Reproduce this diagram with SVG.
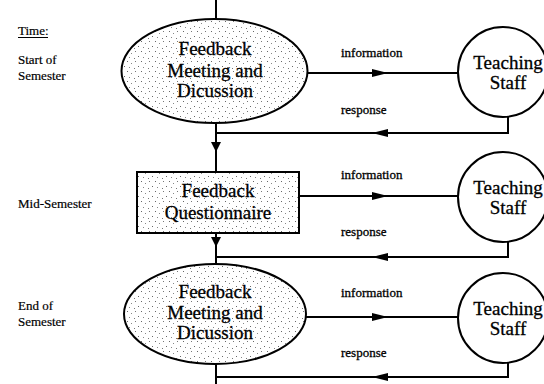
<svg xmlns="http://www.w3.org/2000/svg" width="544" height="384" viewBox="0 0 544 384">
<style>
.ln{fill:none;stroke:#000;stroke-width:2}
.nd{stroke:#000;stroke-width:2;fill:url(#dots)}
.cir{stroke:#000;stroke-width:2;fill:#fff}
.ah{fill:#000}
.nt{font-family:"Liberation Serif",serif;font-size:19px;text-anchor:middle;fill:#000;stroke:#000;stroke-width:0.3}
.lb{font-family:"Liberation Serif",serif;font-size:13px;fill:#000;stroke:#000;stroke-width:0.3}
.tl{font-family:"Liberation Serif",serif;font-size:13px;fill:#000;stroke:#000;stroke-width:0.2}
</style>
<defs>
<pattern id="dots" width="14" height="10" patternUnits="userSpaceOnUse">
<rect width="14" height="10" fill="#fff"/>
<rect x="1" y="1" width="1" height="1" fill="#666"/>
<rect x="5" y="3" width="1" height="1" fill="#888"/>
<rect x="9" y="1" width="1" height="1" fill="#777"/>
<rect x="12" y="6" width="1" height="1" fill="#666"/>
<rect x="3" y="7" width="1" height="1" fill="#888"/>
<rect x="8" y="8" width="1" height="1" fill="#777"/>
</pattern>
</defs>
<g id="time-labels">
<text class="tl" x="18" y="35">Time:</text>
<line x1="18" y1="37.5" x2="48" y2="37.5" stroke="#000" stroke-width="1"/>
<text class="tl" x="18" y="64">Start of</text>
<text class="tl" x="18" y="80">Semester</text>
<text class="tl" x="18" y="208">Mid-Semester</text>
<text class="tl" x="18" y="310">End of</text>
<text class="tl" x="18" y="326">Semester</text>
</g>
<g id="connectors">
<line class="ln" x1="216" y1="0" x2="216" y2="20"/>
<line class="ln" x1="216" y1="121" x2="216" y2="172"/>
<line class="ln" x1="216" y1="233" x2="216" y2="265"/>
<line class="ln" x1="216" y1="363" x2="216" y2="384"/>
<polygon class="ah" points="211,142 221,142 216,152"/>
<polygon class="ah" points="211,237 221,237 216,247"/>
<line class="ln" x1="307" y1="73" x2="458" y2="73"/>
<polygon class="ah" points="372,69 388,73 372,77"/>
<line class="ln" x1="299" y1="196" x2="458" y2="196"/>
<polygon class="ah" points="372,192 388,196 372,200"/>
<line class="ln" x1="305" y1="317" x2="458" y2="317"/>
<polygon class="ah" points="372,313 388,317 372,321"/>
<polyline class="ln" points="508,117 508,133 216,133" stroke-width="1.5"/>
<polygon class="ah" points="388,129 372,133 388,137"/>
<polyline class="ln" points="508,241 508,257 216,257" stroke-width="1.5"/>
<polygon class="ah" points="388,253 372,257 388,261"/>
<polyline class="ln" points="508,362 508,377 216,377" stroke-width="1.5"/>
<polygon class="ah" points="388,373 372,377 388,381"/>
<text class="lb" x="341" y="57">information</text>
<text class="lb" x="341" y="114">response</text>
<text class="lb" x="341" y="179">information</text>
<text class="lb" x="341" y="236">response</text>
<text class="lb" x="341" y="297">information</text>
<text class="lb" x="341" y="357">response</text>
</g>
<g id="meeting-start">
<ellipse class="nd" cx="214.5" cy="71" rx="93" ry="52"/>
<text class="nt" x="215" y="55">Feedback</text>
<text class="nt" x="215" y="77">Meeting and</text>
<text class="nt" x="215" y="97">Dicussion</text>
</g>
<g id="questionnaire">
<rect class="nd" x="137" y="172" width="162" height="61"/>
<text class="nt" x="218" y="197">Feedback</text>
<text class="nt" x="218" y="219">Questionnaire</text>
</g>
<g id="meeting-end">
<ellipse class="nd" cx="215" cy="314" rx="91" ry="50"/>
<text class="nt" x="215" y="298">Feedback</text>
<text class="nt" x="215" y="319">Meeting and</text>
<text class="nt" x="215" y="339">Dicussion</text>
</g>
<g id="staff-1">
<circle class="cir" cx="503" cy="72" r="45"/>
<text class="nt" x="508" y="69">Teaching</text>
<text class="nt" x="508" y="89">Staff</text>
</g>
<g id="staff-2">
<circle class="cir" cx="503" cy="197" r="45"/>
<text class="nt" x="508" y="194">Teaching</text>
<text class="nt" x="508" y="214">Staff</text>
</g>
<g id="staff-3">
<circle class="cir" cx="503" cy="318" r="45"/>
<text class="nt" x="508" y="315">Teaching</text>
<text class="nt" x="508" y="335">Staff</text>
</g>
</svg>
